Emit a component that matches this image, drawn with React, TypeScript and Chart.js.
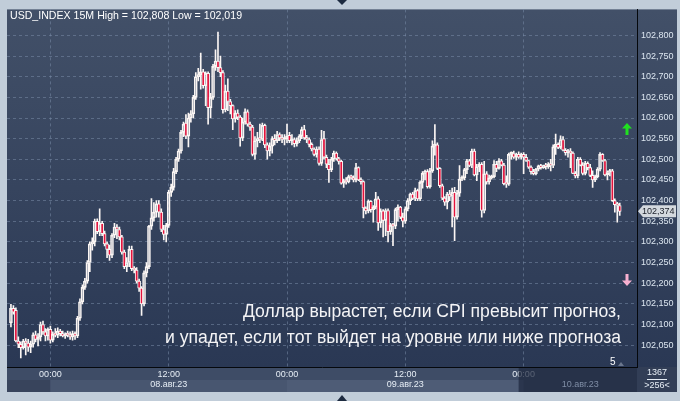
import React, { useEffect, useRef } from 'react';
import { Chart, registerables } from 'chart.js';

Chart.register(...registerables);

// Prices are stored in thousandths above BASE (e.g. 374 -> 102.374)
const BASE = 102;
// bar slot index of the first candle, counted in 15-minute slots from 08.авг.23 00:00
const FIRST_SLOT = -16;

const openPts = [
  104, 139, 134, 60, 52, 44, 60, 55, 45, 52, 75, 64, 70, 100, 82, 72,
  88, 62, 76, 74, 84, 78, 72, 76, 74, 70, 78, 72, 115, 155, 190, 205,
  250, 295, 300, 350, 325, 345, 320, 295, 282, 268, 316, 336, 330, 312, 275, 240,
  250, 282, 235, 232, 205, 188, 150, 225, 240, 338, 358, 372, 392, 372, 330, 318,
  340, 420, 432, 470, 500, 520, 565, 588, 556, 600, 610, 650, 700, 705, 712, 678,
  708, 625, 650, 725, 738, 722, 710, 620, 665, 640, 630, 598, 612, 602, 552, 590,
  615, 585, 578, 512, 545, 550, 548, 582, 535, 520, 532, 550, 545, 560, 552, 548,
  550, 558, 545, 548, 538, 545, 556, 572, 552, 548, 536, 525, 512, 525, 490, 550,
  505, 488, 475, 500, 515, 502, 495, 442, 448, 445, 458, 455, 450, 480, 450, 446,
  382, 375, 398, 378, 384, 404, 346, 375, 352, 376, 325, 340, 338, 378, 384, 360,
  350, 380, 400, 416, 405, 424, 404, 444, 466, 470, 434, 472, 532, 535, 478, 436,
  406, 396, 416, 410, 420, 360, 418, 452, 455, 475, 496, 485, 520, 462, 482, 488,
  376, 465, 445, 455, 458, 488, 478, 496, 486, 441, 440, 512, 514, 505, 512, 505,
  512, 505, 497, 481, 470, 465, 476, 484, 480, 484, 482, 488, 485, 530, 536, 529,
  548, 522, 516, 520, 515, 466, 460, 500, 486, 466, 490, 480, 461, 450, 458, 476,
  512, 497, 462, 468, 472, 400, 390, 388,
];
const highPts = [
  149, 146, 140, 70, 58, 64, 66, 64, 60, 80, 84, 78, 106, 108, 90, 92,
  96, 82, 90, 92, 88, 84, 80, 84, 82, 84, 82, 120, 162, 196, 212, 255,
  300, 310, 355, 356, 380, 350, 326, 300, 292, 320, 345, 342, 336, 316, 280, 262,
  290, 290, 240, 238, 210, 192, 230, 250, 340, 405, 395, 400, 400, 380, 340, 345,
  425, 440, 478, 505, 525, 570, 590, 608, 612, 618, 655, 710, 720, 757, 718, 712,
  712, 660, 730, 765, 808, 750, 715, 680, 695, 645, 632, 618, 620, 606, 600, 622,
  620, 590, 582, 555, 565, 585, 588, 585, 540, 540, 555, 560, 568, 564, 560, 560,
  585, 565, 560, 552, 552, 560, 578, 582, 558, 552, 540, 528, 530, 530, 570, 568,
  510, 500, 505, 520, 518, 505, 498, 452, 456, 462, 462, 460, 490, 482, 455, 448,
  385, 402, 400, 388, 420, 410, 380, 378, 380, 380, 345, 345, 382, 390, 386, 370,
  385, 405, 418, 420, 430, 428, 448, 470, 474, 475, 478, 545, 584, 540, 480, 440,
  410, 420, 425, 430, 432, 425, 485, 460, 478, 500, 500, 525, 525, 488, 492, 492,
  495, 470, 462, 462, 497, 495, 502, 500, 490, 460, 515, 518, 520, 515, 518, 515,
  516, 512, 498, 484, 476, 478, 486, 488, 486, 490, 492, 500, 535, 561, 540, 557,
  555, 526, 524, 526, 518, 470, 505, 504, 492, 495, 494, 488, 472, 462, 480, 516,
  514, 500, 472, 476, 476, 404, 396, 394,
];
const lowPts = [
  94, 125, 58, 44, 19, 40, 26, 35, 32, 45, 58, 48, 60, 76, 60, 62,
  55, 58, 70, 68, 72, 70, 66, 70, 64, 62, 64, 68, 110, 150, 185, 200,
  228, 280, 290, 320, 315, 315, 290, 262, 255, 262, 310, 308, 305, 270, 235, 228,
  240, 230, 225, 200, 180, 122, 145, 215, 235, 330, 350, 360, 360, 325, 305, 300,
  335, 410, 425, 465, 495, 515, 555, 550, 530, 590, 600, 645, 690, 670, 672, 630,
  585, 600, 645, 715, 712, 700, 612, 615, 618, 610, 572, 590, 596, 532, 545, 585,
  580, 570, 508, 500, 530, 540, 545, 528, 500, 508, 515, 535, 540, 545, 540, 535,
  540, 540, 535, 530, 532, 540, 550, 548, 540, 530, 520, 508, 505, 486, 485, 500,
  480, 444, 470, 495, 498, 488, 440, 432, 440, 443, 452, 445, 445, 448, 440, 358,
  368, 370, 372, 348, 380, 328, 335, 312, 315, 300, 318, 291, 332, 350, 356, 336,
  345, 375, 390, 402, 400, 400, 400, 430, 450, 430, 430, 468, 510, 475, 432, 402,
  388, 380, 400, 336, 303, 355, 410, 448, 450, 465, 482, 480, 460, 448, 470, 360,
  370, 440, 440, 452, 455, 470, 476, 484, 438, 432, 437, 500, 502, 498, 502, 500,
  465, 495, 478, 464, 462, 462, 472, 476, 478, 476, 478, 472, 480, 512, 526, 525,
  520, 510, 505, 480, 465, 455, 455, 484, 462, 462, 474, 458, 432, 446, 455, 472,
  495, 460, 450, 460, 398, 372, 348, 364,
];
const closePts = [
  139, 130, 60, 52, 44, 60, 55, 45, 52, 75, 64, 70, 100, 82, 72, 88,
  62, 76, 74, 84, 78, 72, 76, 74, 70, 78, 72, 115, 155, 190, 205, 250,
  295, 300, 350, 325, 345, 320, 295, 282, 268, 316, 336, 330, 312, 275, 240, 250,
  282, 235, 232, 205, 188, 150, 225, 240, 338, 358, 372, 392, 372, 330, 318, 340,
  420, 432, 470, 500, 520, 565, 585, 556, 600, 610, 650, 700, 705, 712, 678, 708,
  625, 650, 725, 738, 722, 710, 620, 665, 640, 630, 598, 612, 602, 552, 590, 615,
  585, 578, 512, 545, 550, 548, 582, 535, 520, 532, 550, 545, 560, 552, 548, 550,
  556, 545, 548, 538, 545, 556, 572, 552, 548, 536, 525, 512, 525, 490, 548, 505,
  488, 475, 500, 515, 502, 495, 442, 448, 445, 458, 455, 450, 480, 450, 446, 382,
  375, 398, 378, 384, 404, 346, 375, 352, 376, 325, 340, 338, 378, 384, 360, 350,
  380, 400, 416, 405, 424, 404, 444, 466, 470, 434, 472, 532, 535, 478, 436, 406,
  396, 416, 410, 420, 360, 418, 452, 455, 475, 496, 485, 520, 462, 482, 488, 376,
  465, 445, 455, 458, 488, 478, 496, 486, 441, 440, 512, 514, 505, 512, 505, 512,
  505, 497, 481, 470, 465, 476, 484, 480, 484, 482, 488, 485, 530, 536, 529, 548,
  522, 516, 520, 515, 466, 460, 500, 486, 466, 490, 480, 461, 450, 458, 476, 512,
  497, 462, 468, 472, 400, 390, 388, 374,
];

const X_MIN = -17.6;
const X_MAX = 238;
const Y_MIN = 101.997;
const Y_MAX = 102.863;
const Y_STEP = 0.05;
const Y_FIRST_LABEL = 102.05;
const Y_LAST_LABEL = 102.8;

const timeTickSlots = [0, 48, 96, 144, 192];
const timeTickLabels = ['00:00', '12:00', '00:00', '12:00', '00:00'];
const daySlots = [48, 144];
const dayLabels = ['08.авг.23', '09.авг.23', '10.авг.23'];

const titleText = 'USD_INDEX 15M High = 102,808 Low = 102,019';
const noteLines = [
  'Доллар вырастет, если CPI превысит прогноз,',
  'и упадет, если тот выйдет на уровне или ниже прогноза',
];
const totalBarsText = '1367';
const visibleBarsText = '>256<';
const cornerText = '5';

const FONT = '"Liberation Sans", Arial, sans-serif';
const RED = '#e3123c';
const WICK = '#fbf6f4';

function fmt(v: number) {
  return v.toFixed(3).replace('.', ',');
}

export default function App() {
  const ref = useRef<HTMLCanvasElement>(null);

  useEffect(() => {
    document.body.style.margin = '0';
    const canvas = ref.current;
    if (!canvas) return;

    const slots = openPts.map((_, k) => FIRST_SLOT + k);
    const O = openPts.map((v) => BASE + v / 1000);
    const H = highPts.map((v) => BASE + v / 1000);
    const L = lowPts.map((v) => BASE + v / 1000);
    const C = closePts.map((v) => BASE + v / 1000);
    const lastPrice = C[C.length - 1];

    const upperWick = slots.map((s, k) => ({ x: s, y: [Math.max(O[k], C[k]), H[k]] }));
    const lowerWick = slots.map((s, k) => ({ x: s, y: [L[k], Math.min(O[k], C[k])] }));
    const bodies = slots.map((s, k) => ({ x: s, y: [Math.min(O[k], C[k]), Math.max(O[k], C[k])] }));

    const decor = {
      id: 'decor',
      beforeDraw(chart: any) {
        const { ctx, chartArea: a, width, height } = chart;
        const ys = chart.scales.y;
        const xs = chart.scales.x;
        ctx.save();
        ctx.fillStyle = '#c1cdd9';
        ctx.fillRect(0, 0, width, height);
        const g = ctx.createLinearGradient(0, a.top, 0, a.bottom);
        g.addColorStop(0, 'rgb(66,80,104)');
        g.addColorStop(1, 'rgb(42,56,84)');
        ctx.fillStyle = g;
        ctx.fillRect(a.left, a.top, ys.right - a.left, a.bottom - a.top);
        // bottom panel
        const pb = xs.bottom;
        ctx.fillStyle = 'rgb(62,76,102)';
        ctx.fillRect(a.left, a.bottom, a.right - a.left, pb - a.bottom);
        const midY = a.bottom + 13;
        const p0 = xs.getPixelForValue(timeTickSlots[0]);
        const p2 = xs.getPixelForValue(timeTickSlots[2]);
        const p4 = xs.getPixelForValue(timeTickSlots[4]);
        ctx.fillStyle = 'rgb(56,68,92)';
        ctx.fillRect(a.left, midY, p0 - a.left, pb - midY);
        ctx.fillStyle = 'rgb(72,86,112)';
        ctx.fillRect(p0, midY, p2 - p0, pb - midY);
        ctx.fillStyle = 'rgb(78,92,118)';
        ctx.fillRect(p2, midY, p4 - p2, pb - midY);
        ctx.fillStyle = 'rgb(50,62,86)';
        ctx.fillRect(ys.left, a.bottom, ys.right - ys.left, pb - a.bottom);
        ctx.restore();
      },
      afterDraw(chart: any) {
        const { ctx, chartArea: a } = chart;
        const xs = chart.scales.x;
        const ys = chart.scales.y;
        const pb = xs.bottom;
        ctx.save();
        // darker zone for the current (incomplete) day
        const p4 = xs.getPixelForValue(timeTickSlots[4]) - 5;
        ctx.fillStyle = 'rgba(30,40,62,0.72)';
        ctx.fillRect(p4, a.bottom + 1, a.right - p4, pb - a.bottom - 1);

        // day labels
        ctx.font = '9px ' + FONT;
        ctx.textAlign = 'center';
        ctx.textBaseline = 'middle';
        ctx.fillStyle = '#e6edf5';
        daySlots.forEach((s, k) => {
          ctx.fillText(dayLabels[k], xs.getPixelForValue(s), a.bottom + 18);
        });
        ctx.fillStyle = '#7f8da5';
        ctx.fillText(dayLabels[2], (xs.getPixelForValue(timeTickSlots[4]) + a.right) / 2, a.bottom + 18);

        // bar count panel
        ctx.fillStyle = '#e6edf5';
        const cx = (ys.left + ys.right) / 2;
        ctx.fillText(totalBarsText, cx, a.bottom + 6);
        ctx.fillText(visibleBarsText, cx, a.bottom + 19);
        ctx.fillStyle = '#e6edf5';
        ctx.fillRect(cx - 10, a.bottom + 12, 20, 1);

        // title
        ctx.textAlign = 'left';
        ctx.textBaseline = 'alphabetic';
        ctx.font = '10.6px ' + FONT;
        ctx.fillStyle = '#ffffff';
        ctx.fillText(titleText, a.left + 3, a.top + 10);

        // note
        ctx.textAlign = 'right';
        ctx.font = '17.6px ' + FONT;
        ctx.fillStyle = '#f4f4f6';
        ctx.fillText(noteLines[0], 621, 317);
        ctx.fillText(noteLines[1], 621, 343);

        // corner "5"
        ctx.font = '10px ' + FONT;
        ctx.textAlign = 'left';
        ctx.fillStyle = '#ffffff';
        ctx.fillText(cornerText, 610, 365);
        ctx.fillStyle = 'rgba(150,160,180,0.6)';
        ctx.beginPath();
        ctx.moveTo(618, 366);
        ctx.lineTo(621, 362);
        ctx.lineTo(624, 366);
        ctx.closePath();
        ctx.fill();

        // arrows
        const drawArrow = (x: number, y: number, up: boolean, color: string) => {
          ctx.fillStyle = color;
          ctx.beginPath();
          const d = up ? 1 : -1;
          ctx.moveTo(x, y - 6 * d);
          ctx.lineTo(x + 5, y - 0.5 * d);
          ctx.lineTo(x + 1.5, y - 0.5 * d);
          ctx.lineTo(x + 1.5, y + 6 * d);
          ctx.lineTo(x - 1.5, y + 6 * d);
          ctx.lineTo(x - 1.5, y - 0.5 * d);
          ctx.lineTo(x - 5, y - 0.5 * d);
          ctx.closePath();
          ctx.fill();
        };
        drawArrow(627, 129, true, '#20e020');
        drawArrow(627, 280, false, '#f7b0d0');

        // last price marker
        const py = ys.getPixelForValue(lastPrice);
        ctx.fillStyle = '#d4d9de';
        ctx.beginPath();
        ctx.moveTo(ys.left + 1, py);
        ctx.lineTo(ys.left + 6, py - 6);
        ctx.lineTo(ys.right - 1, py - 6);
        ctx.lineTo(ys.right - 1, py + 6);
        ctx.lineTo(ys.left + 6, py + 6);
        ctx.closePath();
        ctx.fill();
        ctx.fillStyle = '#1a1f28';
        ctx.font = '9px ' + FONT;
        ctx.textAlign = 'left';
        ctx.textBaseline = 'middle';
        ctx.fillText(fmt(lastPrice), ys.left + 5, py + 0.5);

        // frame triangles
        ctx.fillStyle = '#1d2b40';
        ctx.beginPath();
        ctx.moveTo(337, 0);
        ctx.lineTo(347, 0);
        ctx.lineTo(342, 5);
        ctx.closePath();
        ctx.fill();
        ctx.beginPath();
        ctx.moveTo(337, 401);
        ctx.lineTo(347, 401);
        ctx.lineTo(342, 395);
        ctx.closePath();
        ctx.fill();
        ctx.restore();
      },
    };

    const chart = new Chart(canvas, {
      type: 'bar',
      data: {
        datasets: [
          {
            data: upperWick as any,
            backgroundColor: WICK,
            borderWidth: 0,
            barThickness: 1,
            grouped: false,
            order: 2,
          },
          {
            data: lowerWick as any,
            backgroundColor: WICK,
            borderWidth: 0,
            barThickness: 1,
            grouped: false,
            order: 2,
          },
          {
            data: bodies as any,
            backgroundColor: (c: any) => {
              const k = c.dataIndex;
              if (k === undefined) return 'transparent';
              return C[k] < O[k] ? RED : 'rgba(0,0,0,0)';
            },
            borderColor: WICK,
            borderWidth: 1,
            borderSkipped: false,
            barThickness: 3,
            minBarLength: 2,
            grouped: false,
            order: 1,
          },
        ],
      },
      options: {
        animation: false,
        responsive: false,
        events: [],
        layout: { padding: { left: 7, top: 8, right: 3, bottom: 9 } },
        plugins: { legend: { display: false }, tooltip: { enabled: false }, title: { display: false } },
        scales: {
          x: {
            type: 'linear',
            min: X_MIN,
            max: X_MAX,
            offset: false,
            afterFit: (s: any) => {
              s.height = 25;
            },
            afterBuildTicks: (s: any) => {
              s.ticks = timeTickSlots.map((v) => ({ value: v }));
            },
            grid: {
              offset: false,
              color: 'rgba(120,138,166,0.55)',
              lineWidth: 1,
              drawTicks: false,
            },
            border: { display: true, color: '#05080c', width: 1, dash: [3, 3] },
            ticks: {
              autoSkip: false,
              maxRotation: 0,
              padding: 2,
              color: '#e6edf5',
              font: { size: 9, family: FONT },
              callback: (_v: any, i: number) => timeTickLabels[i],
            },
          },
          y: {
            type: 'linear',
            position: 'right',
            min: Y_MIN,
            max: Y_MAX,
            afterFit: (s: any) => {
              s.width = 40;
            },
            afterBuildTicks: (s: any) => {
              s.ticks = s.ticks.filter(
                (t: any) => t.value > Y_FIRST_LABEL - 0.01 && t.value < Y_LAST_LABEL + 0.01,
              );
            },
            grid: {
              color: 'rgba(120,138,166,0.55)',
              lineWidth: 1,
              drawTicks: false,
            },
            border: { display: true, color: '#05080c', width: 1, dash: [3, 3] },
            ticks: {
              stepSize: Y_STEP,
              includeBounds: false,
              padding: 4,
              color: '#dce6f0',
              font: { size: 9, family: FONT },
              callback: (v: any) => fmt(Number(v)),
            },
          },
        },
      },
      plugins: [decor],
    } as any);

    return () => chart.destroy();
  }, []);

  return (
    <div style={{ width: 680, height: 401 }}>
      <canvas ref={ref} width={680} height={401} style={{ display: 'block' }} />
    </div>
  );
}
